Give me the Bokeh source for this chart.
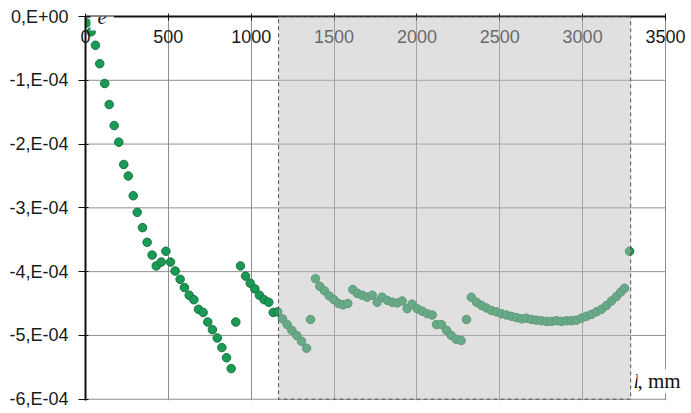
from bokeh.plotting import figure
from bokeh.models import Range1d, BoxAnnotation, Label, CustomJSTickFormatter
from bokeh.embed import file_html
from bokeh.resources import INLINE

# Measured strain e along the length l (mm)
length_mm = [6, 34, 60, 86, 116, 143, 173, 201, 231, 258, 288, 312, 344, 372, 402,
             427, 457, 485, 513, 541, 571, 597, 626, 654, 682, 710, 738, 766, 795,
             823, 851, 879, 907, 935, 966, 994, 1022, 1050, 1078, 1106, 1133, 1160,
             1189, 1217, 1245, 1275, 1303, 1334, 1358, 1388, 1414, 1442, 1471, 1499,
             1527, 1554, 1583, 1613, 1640, 1670, 1700, 1730, 1760, 1790, 1821, 1851,
             1881, 1911, 1941, 1971, 2002, 2032, 2062, 2092, 2118, 2148, 2179, 2207,
             2237, 2267, 2299, 2328, 2360, 2390, 2420, 2450, 2480, 2510, 2541, 2571,
             2601, 2631, 2661, 2692, 2722, 2752, 2782, 2812, 2842, 2872, 2903, 2933,
             2963, 2993, 3023, 3053, 3084, 3114, 3144, 3174, 3204, 3230, 3253, 3283]
strain = [-0.10e-4, -0.24e-4, -0.45e-4, -0.74e-4, -1.05e-4, -1.38e-4, -1.71e-4,
          -1.97e-4, -2.32e-4, -2.50e-4, -2.81e-4, -3.07e-4, -3.31e-4, -3.54e-4,
          -3.74e-4, -3.91e-4, -3.85e-4, -3.68e-4, -3.85e-4, -3.99e-4, -4.12e-4,
          -4.25e-4, -4.37e-4, -4.44e-4, -4.59e-4, -4.64e-4, -4.79e-4, -4.91e-4,
          -5.04e-4, -5.19e-4, -5.35e-4, -5.52e-4, -4.79e-4, -3.91e-4, -4.07e-4,
          -4.18e-4, -4.27e-4, -4.37e-4, -4.44e-4, -4.48e-4, -4.64e-4, -4.63e-4,
          -4.74e-4, -4.83e-4, -4.92e-4, -5.00e-4, -5.09e-4, -5.20e-4, -4.75e-4,
          -4.11e-4, -4.23e-4, -4.30e-4, -4.38e-4, -4.44e-4, -4.50e-4, -4.52e-4,
          -4.50e-4, -4.28e-4, -4.34e-4, -4.37e-4, -4.40e-4, -4.37e-4, -4.48e-4,
          -4.40e-4, -4.45e-4, -4.48e-4, -4.49e-4, -4.46e-4, -4.58e-4, -4.51e-4,
          -4.58e-4, -4.62e-4, -4.66e-4, -4.68e-4, -4.83e-4, -4.83e-4, -4.92e-4,
          -5.00e-4, -5.06e-4, -5.08e-4, -4.75e-4, -4.40e-4, -4.48e-4, -4.53e-4,
          -4.57e-4, -4.61e-4, -4.63e-4, -4.66e-4, -4.68e-4, -4.70e-4, -4.72e-4,
          -4.74e-4, -4.73e-4, -4.75e-4, -4.76e-4, -4.77e-4, -4.78e-4, -4.78e-4,
          -4.77e-4, -4.78e-4, -4.77e-4, -4.77e-4, -4.76e-4, -4.73e-4, -4.70e-4,
          -4.67e-4, -4.63e-4, -4.59e-4, -4.53e-4, -4.46e-4, -4.39e-4, -4.32e-4,
          -4.26e-4, -3.68e-4]

x_ticks = [0, 500, 1000, 1500, 2000, 2500, 3000, 3500]
x_tick_labels = ["0", "500", "1000", "1500", "2000", "2500", "3000", "3500"]
y_ticks = [0.0, -1e-4, -2e-4, -3e-4, -4e-4, -5e-4, -6e-4]
y_tick_labels = ["0,E+00", "-1,E-04", "-2,E-04", "-3,E-04", "-4,E-04", "-5,E-04", "-6,E-04"]

# shaded measurement zone along l
zone_start, zone_end = 1165, 3290

SANS = "Liberation Sans"
SERIF = "Liberation Serif"

X_MAX = x_ticks[-1]
# frame runs to the right edge so the "l, mm" title has room past the last tick
p = figure(width=691, height=413, output_backend="svg", toolbar_location=None,
           x_range=Range1d(0, 3657), y_range=Range1d(-6.02e-4, 0),
           x_axis_location="above",
           min_border_left=85, min_border_right=0,
           min_border_top=16, min_border_bottom=13)
p.outline_line_color = None
p.background_fill_color = "white"
p.border_fill_color = "white"

GRID = "#8e8e8e"
# vertical grid from the x ticks; horizontal grid only across 0..3500
p.xgrid.ticker = x_ticks
p.xgrid.grid_line_color = GRID
p.ygrid.visible = False
p.segment(x0=[x_ticks[0]] * len(y_ticks), x1=[X_MAX] * len(y_ticks),
          y0=y_ticks, y1=y_ticks, line_color=GRID, line_width=1)

# top axis with its labels pulled down under the axis line
xa = p.xaxis[0]
xa.ticker = x_ticks
xa.bounds = (x_ticks[0], X_MAX)
xa.major_label_overrides = dict(zip(x_ticks, x_tick_labels))
xa.major_label_standoff = -29
xa.major_label_text_font = SANS
xa.major_label_text_font_size = "18px"
xa.major_label_text_color = "#1a1a1a"
xa.axis_line_width = 2
xa.axis_line_color = "#111111"
xa.major_tick_line_color = "#111111"
xa.major_tick_in = 4
xa.major_tick_out = 3
xa.minor_tick_line_color = None

ya = p.yaxis[0]
ya.ticker = y_ticks
ya.formatter = CustomJSTickFormatter(
    args=dict(tick_vals=y_ticks, tick_texts=y_tick_labels),
    code="const i = tick_vals.findIndex(t => Math.abs(t - tick) < 1e-9); return i >= 0 ? tick_texts[i] : '';")
ya.axis_line_width = 2
ya.axis_line_color = "#111111"
ya.major_tick_line_color = "#111111"
ya.major_tick_in = 3
ya.major_tick_out = 7
ya.minor_tick_line_color = None
ya.major_label_standoff = 10
ya.major_label_text_font = SANS
ya.major_label_text_font_size = "18px"
ya.major_label_text_color = "#1a1a1a"

# data points
p.scatter(length_mm, strain, size=8.5, fill_color="#1b9a55", line_color="#157443",
          line_width=1)

# translucent zone overlay with dashed edges
p.add_layout(BoxAnnotation(left=zone_start, right=zone_end, top=0, bottom=-6e-4,
                           fill_color="#bdbdbd", fill_alpha=0.47, line_color="#555555",
                           line_alpha=1.0, line_dash="4 3", line_width=1, level="overlay"))

# axis titles
p.add_layout(Label(x=30, y=0, text="e", text_font=SERIF, text_font_style="italic",
                   text_font_size="21px", text_color="#222222", text_baseline="alphabetic",
                   background_fill_color="white", padding=7))
p.add_layout(Label(x=3307, y=-5.72e-4, text="l", text_font=SERIF, text_font_style="italic",
                   text_font_size="21px", text_color="#111111", text_baseline="alphabetic",
                   background_fill_color="white"))
p.add_layout(Label(x=3331, y=-5.72e-4, text=", mm", text_font=SERIF,
                   text_font_size="21px", text_color="#111111", text_baseline="alphabetic",
                   background_fill_color="white"))

open("out.html", "w").write(file_html(p, INLINE))
